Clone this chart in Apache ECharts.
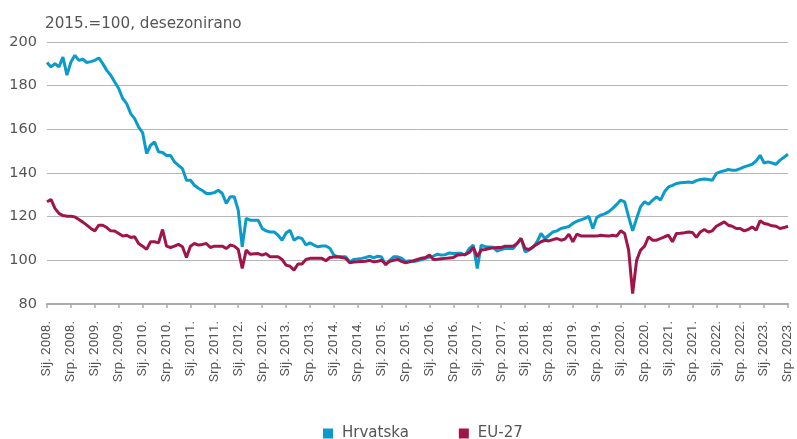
<!DOCTYPE html>
<html>
<head>
<meta charset="utf-8">
<script src="https://cdn.jsdelivr.net/npm/echarts@6/dist/echarts.min.js"></script>
<style>
html,body{margin:0;padding:0;background:#fff;}
#chart{width:797px;height:439px;}
</style>
</head>
<body>
<div id="chart"></div>
<script>
// Month abbreviations (Croatian) and years
const monthNames = ['Sij.','Velj.','Ožu.','Tra.','Svi.','Lip.','Srp.','Kol.','Ruj.','Lis.','Stu.','Pro.'];
const years = [2008,2009,2010,2011,2012,2013,2014,2015,2016,2017,2018,2019,2020,2021,2022,2023];
const lastYearMonths = 7; // Jan–Jul 2023

const title = '2015.=100, desezonirano';
const seriesNames = ['Hrvatska', 'EU-27'];
const yTicks = {min: 80, max: 200, step: 20};

// Hrvatska, monthly, 2015=100, seasonally adjusted
const hrvatska = [
  190.6,188.6,190.1,188.6,193.1,184.8,190.8,193.9,191.6,192.1,190.6,191.0, // 2008
  191.6,192.7,190.1,187.0,184.8,181.7,178.7,174.1,171.8,167.2,164.9,161.0, // 2009
  158.5,148.9,152.7,154.2,149.7,149.4,148.0,148.0,145.1,143.5,142.0,136.7, // 2010
  136.7,134.4,133.0,132.0,130.6,130.6,131.0,132.1,130.6,126.0,129.1,129.1, // 2011
  123.0,106.2,119.2,118.4,118.4,118.4,114.6,113.5,113.0,113.0,111.5,109.2, // 2012
  112.5,113.8,109.2,110.5,110.0,107.0,108.0,107.0,106.2,106.6,106.6,105.5, // 2013
  102.4,101.6,101.6,101.6, 99.3,100.4,100.6,100.9,101.3,101.9,101.1,101.9, // 2014
  101.5, 97.8,100.0,101.6,101.6,101.0, 99.5, 99.8, 99.5, 99.8,100.2,100.9, // 2015
  101.5,101.9,102.8,102.4,102.6,103.4,103.1,103.2,103.2,102.4,105.4,107.0, // 2016
   96.3,107.0,106.2,106.1,106.0,104.2,105.0,105.4,105.4,105.4,107.7,110.0, // 2017
  103.9,104.7,106.0,108.5,112.3,110.0,111.5,113.0,113.5,114.6,115.0,115.5, // 2018
  116.9,117.9,118.5,119.2,120.2,114.6,119.6,120.7,121.3,122.3,123.8,125.6, // 2019
  127.6,126.8,119.9,113.5,119.2,124.6,126.8,125.7,127.5,129.1,127.6,131.4, // 2020
  133.6,134.3,135.2,135.5,135.7,135.9,135.6,136.5,137.0,137.2,137.0,136.7, // 2021
  139.8,140.5,141.0,141.6,141.3,141.3,142.0,142.8,143.4,144.0,145.5,148.1, // 2022
  144.6,145.1,144.6,144.0,145.9,147.2,148.6                                // 2023
];

// EU-27, monthly, 2015=100, seasonally adjusted
const eu27 = [
  126.8,127.9,123.8,121.5,120.5,120.2,120.2,119.9,118.7,117.5,116.1,114.6, // 2008
  113.5,116.1,116.1,115.0,113.5,113.4,112.3,111.1,111.5,110.5,110.8,107.7, // 2009
  106.5,105.0,108.5,108.5,108.0,114.1,106.5,105.9,106.5,107.3,106.2,101.3, // 2010
  106.5,107.7,107.0,107.3,107.7,105.9,106.5,106.5,106.5,105.4,107.0,106.5, // 2011
  105.0, 96.3,104.7,102.8,103.0,103.1,102.4,103.1,101.6,101.6,101.6,100.4, // 2012
   97.8, 97.3, 95.5, 98.3, 98.3,100.4,100.9,100.9,100.9,100.9, 99.8,101.3, // 2013
  101.5,101.6,101.3,100.9, 98.9, 99.2, 99.3, 99.5, 99.6,100.0, 99.3, 99.6, // 2014
  100.0, 98.3, 99.5,100.0,100.4, 99.5, 98.9, 99.3, 99.8,100.4,101.0,101.3, // 2015
  102.4,100.4,100.5,100.7,100.9,101.1,101.3,102.4,102.5,102.7,103.6,105.9, // 2016
  101.6,104.7,105.0,105.4,105.7,105.9,105.9,106.5,106.5,106.5,107.7,110.0, // 2017
  105.4,105.0,106.2,107.4,108.5,109.2,108.9,109.5,110.0,109.2,109.7,112.0, // 2018
  108.5,112.0,111.2,111.1,111.1,111.1,111.1,111.5,111.3,111.1,111.5,111.1, // 2019
  113.5,112.3,104.7, 84.8,100.0,104.7,106.5,110.8,109.2,109.2,110.0,110.8, // 2020
  111.5,108.5,112.3,112.4,112.6,113.0,112.8,110.5,113.0,114.1,113.0,113.5, // 2021
  115.6,116.6,117.6,116.1,115.6,114.6,114.6,113.5,114.1,115.3,113.8,118.1, // 2022
  116.9,116.5,115.8,115.6,114.6,115.0,115.6                                // 2023
];

// Build category labels
const categories = [];
years.forEach(function (y, yi) {
  const n = (yi === years.length - 1) ? lastYearMonths : 12;
  for (let m = 0; m < n; m++) categories.push(monthNames[m] + ' ' + y + '.');
});

const FONT = '"DejaVu Sans", sans-serif';
const FONT_X = 'Roboto, "DejaVu Sans", sans-serif';
const TXT = '#555555';

const chart = echarts.init(document.getElementById('chart'), null, {renderer: 'canvas'});
chart.setOption({
  animation: false,
  backgroundColor: '#ffffff',
  title: {
    text: title,
    left: 40,
    top: 12,
    textStyle: {fontFamily: FONT, fontSize: 15.2, fontWeight: 'normal', color: TXT}
  },
  legend: {
    data: seriesNames,
    left: 318,
    top: 421,
    icon: 'rect',
    itemWidth: 10,
    itemHeight: 10,
    itemGap: 50,
    textStyle: {fontFamily: FONT, fontSize: 15, color: TXT, padding: [0, 0, 0, 4]}
  },
  grid: {left: 47, right: 9, top: 42, bottom: 135, containLabel: false},
  xAxis: {
    type: 'category',
    data: categories,
    boundaryGap: false,
    axisLine: {show: true, lineStyle: {color: '#aaaaaa', width: 2}},
    axisTick: {show: true, interval: 5, length: 4, lineStyle: {color: '#aaaaaa', width: 1.5}},
    axisLabel: {
      interval: 5, rotate: 90, margin: 17,
      fontFamily: FONT_X, fontSize: 13.5, color: TXT
    },
    splitLine: {show: false}
  },
  yAxis: {
    type: 'value',
    min: yTicks.min, max: yTicks.max, interval: yTicks.step,
    axisLine: {show: false},
    axisTick: {show: false},
    axisLabel: {margin: 10, fontFamily: FONT, fontSize: 14.5, color: TXT},
    splitLine: {show: true, lineStyle: {color: '#b5b5b5', width: 1}}
  },
  series: [
    {
      name: seriesNames[0], type: 'line', data: hrvatska,
      showSymbol: false, symbol: 'none',
      itemStyle: {color: '#0a9bcb'},
      lineStyle: {color: '#0a9bcb', width: 3},
      z: 3
    },
    {
      name: seriesNames[1], type: 'line', data: eu27,
      showSymbol: false, symbol: 'none',
      itemStyle: {color: '#a0144a'},
      lineStyle: {color: '#a0144a', width: 3},
      z: 4
    }
  ]
});
</script>
</body>
</html>
